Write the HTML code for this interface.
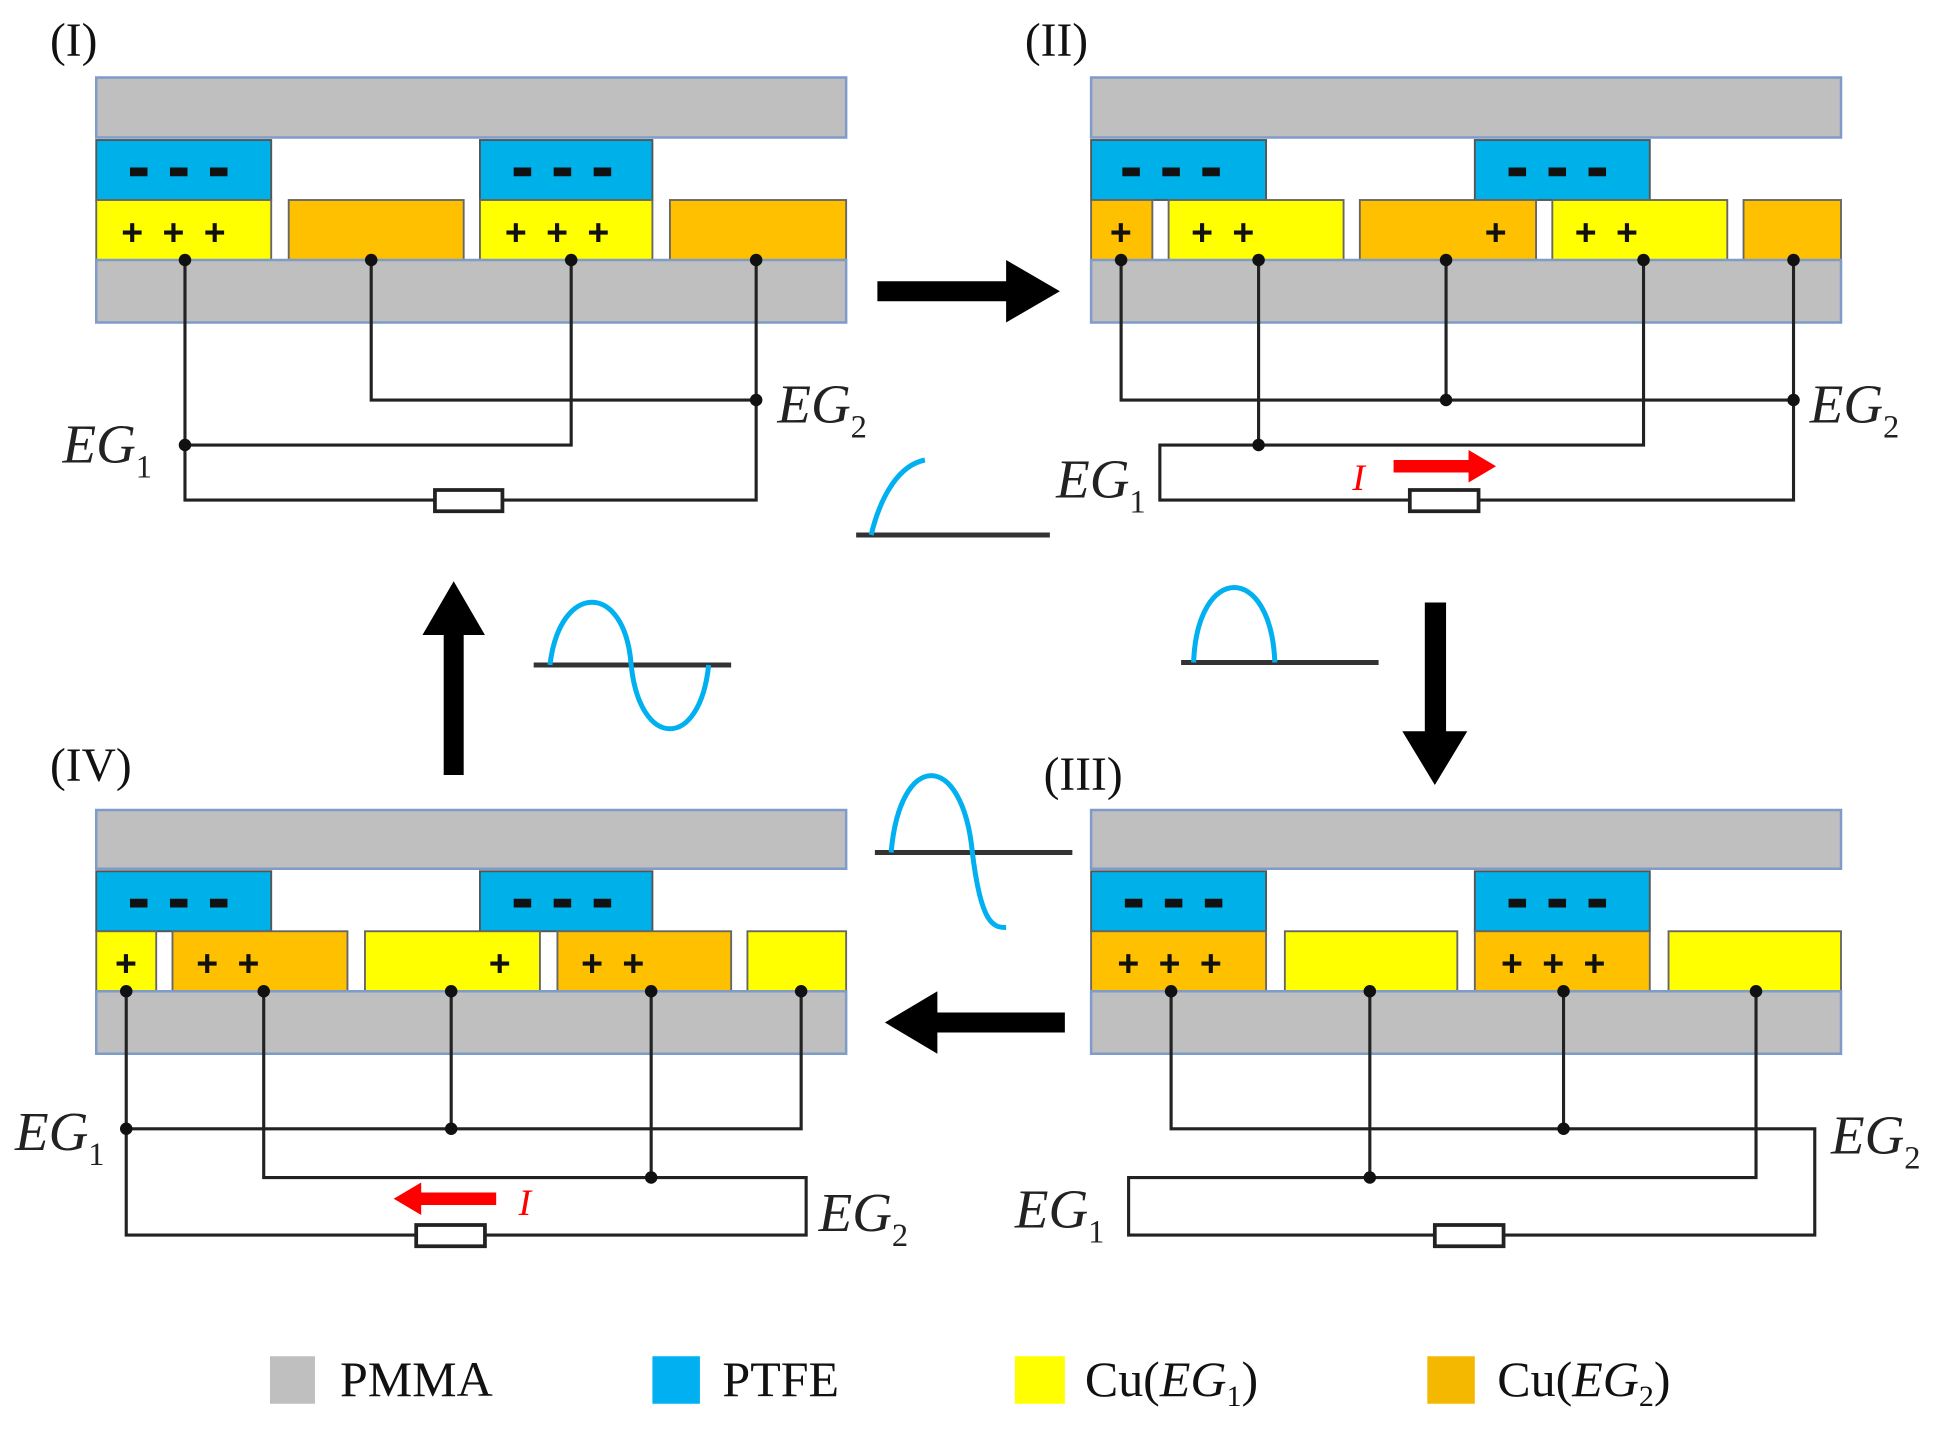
<!DOCTYPE html>
<html><head><meta charset="utf-8"><style>html,body{margin:0;padding:0;background:#fff}svg{display:block}</style></head>
<body>
<svg width="1956" height="1430" viewBox="0 0 1565 1144" preserveAspectRatio="none" xmlns="http://www.w3.org/2000/svg" font-family="Liberation Serif, serif">
<defs>
<style>
.pm{fill:#bfbfbf;stroke:#7f9bc8;stroke-width:2}
.pt{fill:#00b0e8;stroke:#555;stroke-width:1.5}
.y{fill:#ffff00;stroke:#666;stroke-width:1.5}
.o{fill:#ffc000;stroke:#666;stroke-width:1.5}
.w{fill:none;stroke:#222;stroke-width:2.5}
.r{fill:#fff;stroke:#222;stroke-width:3}
.pl{font-family:"Liberation Sans",sans-serif;font-size:30px;font-weight:bold;fill:#111}
.lab{font-size:38px;fill:#111}
.eg{font-size:44px;font-style:italic;fill:#222}
.sub{font-size:26px;fill:#222;font-style:normal}
.bl{fill:none;stroke:#00b0f0;stroke-width:4}
.base{stroke:#333;stroke-width:4}
</style>
</defs>

<!-- Panel I -->
<text x="40" y="45" class="lab">(I)</text>
<rect class="pm" x="77" y="62" width="600" height="48"/>
<rect class="pt" x="77" y="112" width="140" height="48"/>
<rect class="pt" x="384" y="112" width="138" height="48"/>
<rect class="y" x="77" y="160" width="140" height="48"/>
<rect class="o" x="231" y="160" width="140" height="48"/>
<rect class="y" x="384" y="160" width="138" height="48"/>
<rect class="o" x="536" y="160" width="141" height="48"/>
<rect class="pm" x="77" y="208" width="600" height="50"/>
<g fill="#111"><rect x="104" y="134" width="14" height="7"/><rect x="136" y="134" width="14" height="7"/><rect x="168" y="134" width="14" height="7"/>
<rect x="411" y="134" width="14" height="7"/><rect x="443" y="134" width="14" height="7"/><rect x="475" y="134" width="14" height="7"/></g>
<text x="97" y="196" class="pl">+</text><text x="130" y="196" class="pl">+</text><text x="163" y="196" class="pl">+</text>
<text x="404" y="196" class="pl">+</text><text x="437" y="196" class="pl">+</text><text x="470" y="196" class="pl">+</text>
<path class="w" d="M148 208V400H348M402 400H605V208M297 208V320H605M457 208V356H148"/>
<rect class="r" x="348" y="392" width="54" height="17"/>
<g fill="#111"><circle cx="148" cy="208" r="5"/><circle cx="297" cy="208" r="5"/><circle cx="457" cy="208" r="5"/><circle cx="605" cy="208" r="5"/><circle cx="605" cy="320" r="5"/><circle cx="148" cy="356" r="5"/></g>
<text x="50" y="370" class="eg">EG<tspan class="sub" dy="12">1</tspan></text>
<text x="622" y="338" class="eg">EG<tspan class="sub" dy="12">2</tspan></text>

<!-- Panel II -->
<text x="820" y="45" class="lab">(II)</text>
<rect class="pm" x="873" y="62" width="600" height="48"/>
<rect class="pt" x="873" y="112" width="140" height="48"/>
<rect class="pt" x="1180" y="112" width="140" height="48"/>
<rect class="o" x="873" y="160" width="49" height="48"/>
<rect class="y" x="935" y="160" width="140" height="48"/>
<rect class="o" x="1088" y="160" width="141" height="48"/>
<rect class="y" x="1242" y="160" width="140" height="48"/>
<rect class="o" x="1395" y="160" width="78" height="48"/>
<rect class="pm" x="873" y="208" width="600" height="50"/>
<g fill="#111"><rect x="898" y="134" width="14" height="7"/><rect x="930" y="134" width="14" height="7"/><rect x="962" y="134" width="14" height="7"/>
<rect x="1207" y="134" width="14" height="7"/><rect x="1239" y="134" width="14" height="7"/><rect x="1271" y="134" width="14" height="7"/></g>
<text x="888" y="196" class="pl">+</text><text x="953" y="196" class="pl">+</text><text x="986" y="196" class="pl">+</text>
<text x="1188" y="196" class="pl">+</text><text x="1260" y="196" class="pl">+</text><text x="1293" y="196" class="pl">+</text>
<path class="w" d="M897 208V320H1435M1157 208V320M1435 208V400H1183M1128 400H928V356H1315V208M1007 208V356"/>
<rect class="r" x="1128" y="392" width="55" height="17"/>
<g fill="#111"><circle cx="897" cy="208" r="5"/><circle cx="1007" cy="208" r="5"/><circle cx="1157" cy="208" r="5"/><circle cx="1315" cy="208" r="5"/><circle cx="1435" cy="208" r="5"/><circle cx="1157" cy="320" r="5"/><circle cx="1435" cy="320" r="5"/><circle cx="1007" cy="356" r="5"/></g>
<text x="845" y="398" class="eg">EG<tspan class="sub" dy="12">1</tspan></text>
<text x="1448" y="338" class="eg">EG<tspan class="sub" dy="12">2</tspan></text>
<text x="1082" y="392" font-size="30" font-style="italic" fill="#f00">I</text>
<path d="M1115 368H1175V360L1197 373L1175 386V378H1115Z" fill="#f00"/>

<!-- Panel III -->
<text x="835" y="632" class="lab">(III)</text>
<rect class="pm" x="873" y="648" width="600" height="47"/>
<rect class="pt" x="873" y="697" width="140" height="48"/>
<rect class="pt" x="1180" y="697" width="140" height="48"/>
<rect class="o" x="873" y="745" width="140" height="48"/>
<rect class="y" x="1028" y="745" width="138" height="48"/>
<rect class="o" x="1180" y="745" width="140" height="48"/>
<rect class="y" x="1335" y="745" width="138" height="48"/>
<rect class="pm" x="873" y="793" width="600" height="50"/>
<g fill="#111"><rect x="900" y="719" width="14" height="7"/><rect x="932" y="719" width="14" height="7"/><rect x="964" y="719" width="14" height="7"/>
<rect x="1207" y="719" width="14" height="7"/><rect x="1239" y="719" width="14" height="7"/><rect x="1271" y="719" width="14" height="7"/></g>
<text x="894" y="781" class="pl">+</text><text x="927" y="781" class="pl">+</text><text x="960" y="781" class="pl">+</text>
<text x="1201" y="781" class="pl">+</text><text x="1234" y="781" class="pl">+</text><text x="1267" y="781" class="pl">+</text>
<path class="w" d="M937 793V903H1452V988H1203M1148 988H903V942H1405V793M1251 793V903M1096 793V942"/>
<rect class="r" x="1148" y="980" width="55" height="17"/>
<g fill="#111"><circle cx="937" cy="793" r="5"/><circle cx="1096" cy="793" r="5"/><circle cx="1251" cy="793" r="5"/><circle cx="1405" cy="793" r="5"/><circle cx="1251" cy="903" r="5"/><circle cx="1096" cy="942" r="5"/></g>
<text x="812" y="982" class="eg">EG<tspan class="sub" dy="12">1</tspan></text>
<text x="1465" y="923" class="eg">EG<tspan class="sub" dy="12">2</tspan></text>

<!-- Panel IV -->
<text x="40" y="625" class="lab">(IV)</text>
<rect class="pm" x="77" y="648" width="600" height="47"/>
<rect class="pt" x="77" y="697" width="140" height="48"/>
<rect class="pt" x="384" y="697" width="138" height="48"/>
<rect class="y" x="77" y="745" width="48" height="48"/>
<rect class="o" x="138" y="745" width="140" height="48"/>
<rect class="y" x="292" y="745" width="140" height="48"/>
<rect class="o" x="446" y="745" width="139" height="48"/>
<rect class="y" x="598" y="745" width="79" height="48"/>
<rect class="pm" x="77" y="793" width="600" height="50"/>
<g fill="#111"><rect x="104" y="719" width="14" height="7"/><rect x="136" y="719" width="14" height="7"/><rect x="168" y="719" width="14" height="7"/>
<rect x="411" y="719" width="14" height="7"/><rect x="443" y="719" width="14" height="7"/><rect x="475" y="719" width="14" height="7"/></g>
<text x="92" y="781" class="pl">+</text><text x="157" y="781" class="pl">+</text><text x="190" y="781" class="pl">+</text>
<text x="391" y="781" class="pl">+</text><text x="465" y="781" class="pl">+</text><text x="498" y="781" class="pl">+</text>
<path class="w" d="M101 793V988H333M388 988H645V942H211V793M361 793V903M101 903H641V793M521 793V942"/>
<rect class="r" x="333" y="980" width="55" height="17"/>
<g fill="#111"><circle cx="101" cy="793" r="5"/><circle cx="211" cy="793" r="5"/><circle cx="361" cy="793" r="5"/><circle cx="521" cy="793" r="5"/><circle cx="641" cy="793" r="5"/><circle cx="101" cy="903" r="5"/><circle cx="361" cy="903" r="5"/><circle cx="521" cy="942" r="5"/></g>
<text x="12" y="920" class="eg">EG<tspan class="sub" dy="12">1</tspan></text>
<text x="655" y="985" class="eg">EG<tspan class="sub" dy="12">2</tspan></text>
<text x="415" y="972" font-size="30" font-style="italic" fill="#f00">I</text>
<path d="M397 954H337V946L315 959L337 972V964H397Z" fill="#f00"/>

<!-- Big arrows -->
<path d="M702 225H805V208L848 233L805 258V241H702Z" fill="#000"/>
<path d="M1140 482H1157V585H1174L1148 628L1122 585H1140Z" fill="#000"/>
<path d="M852 810H750V793L708 818L750 843V826H852Z" fill="#000"/>
<path d="M355 620V508H338L363 465L388 508H371V620Z" fill="#000"/>

<!-- Waveforms -->
<line class="base" x1="685" y1="428" x2="840" y2="428"/>
<path class="bl" d="M697 428C705 395 720 372 740 368"/>
<line class="base" x1="427" y1="532" x2="585" y2="532"/>
<path class="bl" d="M440 532C448 465 500 465 505 532C512 600 560 600 567 532"/>
<line class="base" x1="945" y1="530" x2="1103" y2="530"/>
<path class="bl" d="M955 530C958 450 1017 450 1020 530"/>
<line class="base" x1="700" y1="682" x2="858" y2="682"/>
<path class="bl" d="M713 682C720 600 770 600 778 682C785 740 795 742 805 742"/>

<!-- Legend -->
<rect x="216" y="1085" width="36" height="38" fill="#bfbfbf"/>
<text x="272" y="1117" font-size="40" fill="#111">PMMA</text>
<rect x="522" y="1085" width="38" height="38" fill="#00b0f0"/>
<text x="578" y="1117" font-size="40" fill="#111">PTFE</text>
<rect x="812" y="1085" width="40" height="38" fill="#ffff00"/>
<text x="868" y="1117" font-size="40" fill="#111">Cu(<tspan font-style="italic">EG</tspan><tspan font-size="24" dy="8">1</tspan><tspan dy="-8">)</tspan></text>
<rect x="1142" y="1085" width="38" height="38" fill="#f5b800"/>
<text x="1198" y="1117" font-size="40" fill="#111">Cu(<tspan font-style="italic">EG</tspan><tspan font-size="24" dy="8">2</tspan><tspan dy="-8">)</tspan></text>
</svg>
</body></html>
